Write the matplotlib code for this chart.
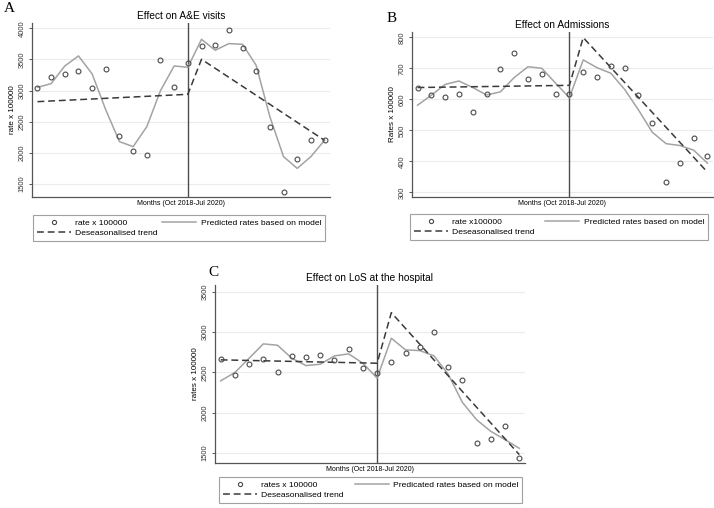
import numpy as np
import matplotlib.pyplot as plt
from matplotlib.lines import Line2D

# =========================================================
# DATA (22 months, Oct 2018 - Jul 2020, intervention at month 11)
# =========================================================
MONTHS = list(range(22))
BREAK = 11

a_rate = [3047, 3218, 3272, 3320, 3047, 3347, 2265, 2035, 1971, 3486, 3063,
          3449, 3722, 3727, 3968, 3690, 3315, 2415, 1372, 1901, 2207, 2201]
a_pred = [3052, 3111, 3395, 3556, 3267, 2688, 2180, 2100, 2421, 2999, 3395,
          3374, 3823, 3647, 3754, 3743, 3406, 2581, 1939, 1751, 1939, 2201]
a_trend_x = [0, 11, 12, 21]
a_trend_y = [2822, 2940, 3502, 2201]

b_rate = [635, 613, 609, 618, 558, 618, 698, 748, 667, 683, 618,
          618, 688, 672, 706, 702, 615, 523, 334, 396, 476, 418]
b_pred = [581, 613, 648, 659, 638, 614, 624, 670, 705, 700, 652,
          605, 727, 702, 684, 632, 566, 494, 457, 451, 436, 394]
b_trend_x = [0, 11, 12, 21]
b_trend_y = [638, 645, 799, 365]

c_rate = [2663, 2469, 2601, 2667, 2502, 2708, 2696, 2721, 2655, 2787, 2560,
          2486, 2634, 2737, 2811, 3001, 2564, 2403, 1624, 1673, 1838, 1442]
c_pred = [2395, 2498, 2675, 2853, 2836, 2675, 2584, 2601, 2704, 2729, 2613,
          2428, 2923, 2778, 2770, 2704, 2477, 2127, 1912, 1768, 1665, 1558]
c_trend_x = [0, 11, 12, 21]
c_trend_y = [2655, 2613, 3240, 1480]

# =========================================================
# STYLE
# =========================================================
plt.rcParams['font.family'] = ['Liberation Sans', 'DejaVu Sans']
W, H = 714, 508
PRED_COL = "#a3a3a3"
TREND_COL = "#3a3a3a"
PT_COL = "#4a4a4a"
AX_COL = "#555555"
DASH = (0, (4.5, 2.5))

fig = plt.figure(figsize=(W / 100, H / 100), dpi=100)
fig.patch.set_facecolor("white")


def rect(l, t, r, b):
    return [l / W, 1 - b / H, (r - l) / W, (b - t) / H]


def panel(box, rate, pred, tx, ty, ylim, yticks, title, ylabel, leg_box, labels):
    ax = fig.add_axes(rect(*box))
    ax.set_xlim(-0.4, 21.4)
    ax.set_ylim(*ylim)
    ax.set_yticks(yticks)
    ax.set_xticks([])
    ax.grid(axis="y", color="#ececec", lw=0.8)
    ax.set_axisbelow(True)
    for s in ["top", "right"]:
        ax.spines[s].set_visible(False)
    for s in ["left", "bottom"]:
        ax.spines[s].set_color(AX_COL)
        ax.spines[s].set_linewidth(0.9)
    ax.tick_params(axis="y", length=2.5, width=0.7, color=AX_COL,
                   labelsize=5.4, pad=2.0, labelcolor="#333333")
    for lab in ax.get_yticklabels():
        lab.set_rotation(90)
        lab.set_va("center")

    ax.axvline(BREAK, color="#4d4d4d", lw=1.0)
    ax.plot(MONTHS, pred, color=PRED_COL, lw=1.1)
    ax.plot(tx, ty, color=TREND_COL, lw=1.1, linestyle=DASH)
    ax.plot(MONTHS, rate, linestyle="none", marker="o", ms=3.5,
            mfc="none", mec=PT_COL, mew=0.8)

    ax.set_title(title, fontsize=7.3, pad=3)
    ax.set_ylabel(ylabel, fontsize=5.8, labelpad=2)
    ax.set_xlabel("Months (Oct 2018-Jul 2020)", fontsize=5.0, labelpad=2)

    # legend
    handles = [
        Line2D([], [], linestyle="none", marker="o", ms=3.0, mfc="none",
               mec=PT_COL, mew=0.8),
        Line2D([], [], color=TREND_COL, lw=1.1, linestyle=DASH),
        Line2D([], [], color=PRED_COL, lw=1.1),
    ]
    l, t, r, b = leg_box
    leg = fig.legend(handles, [labels[0], labels[2], labels[1]], ncol=2,
                     loc="upper left", mode="expand",
                     bbox_to_anchor=(l / W, 1 - b / H, (r - l) / W, (b - t) / H),
                     bbox_transform=fig.transFigure, fontsize=6.1,
                     frameon=True, fancybox=False, borderaxespad=0,
                     handlelength=4.0, handletextpad=0.5, labelspacing=0.3,
                     borderpad=0.45, columnspacing=2.0)
    leg.get_frame().set_edgecolor("#8a8a8a")
    leg.get_frame().set_linewidth(0.8)
    return ax


panel((32, 23, 330, 197), a_rate, a_pred, a_trend_x, a_trend_y,
      (1291, 4085), [1500, 2000, 2500, 3000, 3500, 4000],
      "Effect on A&E visits", "rate x 100000", (33, 215, 325, 243),
      ["rate x 100000", "Predicted rates based on model", "Deseasonalised trend"])

panel((412, 32, 713, 197), b_rate, b_pred, b_trend_x, b_trend_y,
      (285, 817), [300, 400, 500, 600, 700, 800],
      "Effect on Admissions", "Rates x 100000", (410, 214, 708, 241),
      ["rate x100000", "Predicted rates based on model", "Deseasonalised trend"])

panel((215, 285, 525, 463), c_rate, c_pred, c_trend_x, c_trend_y,
      (1376, 3583), [1500, 2000, 2500, 3000, 3500],
      "Effect on LoS at the hospital", "rates x 100000", (219, 477, 522, 503),
      ["rates x 100000", "Predicated rates based on model", "Deseasonalised trend"])

# panel letters
for letter, x, y in [("A", 9, 9), ("B", 392, 19), ("C", 213, 272)]:
    fig.text(x / W, 1 - y / H, letter, fontsize=11, family="Liberation Serif",
             ha="center", va="center")

fig.savefig("out.png", dpi=100)
